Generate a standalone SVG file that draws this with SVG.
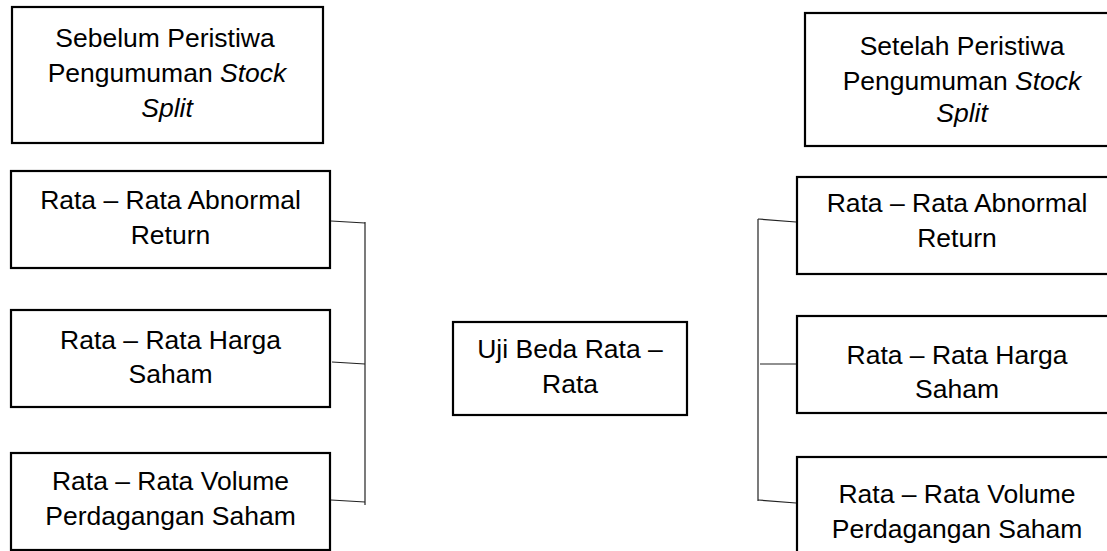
<svg xmlns="http://www.w3.org/2000/svg" width="1107" height="551" viewBox="0 0 1107 551">
<style>
.box{fill:#fff;stroke:#000;stroke-width:2.2}
.t{font-family:"Liberation Sans",Arial,sans-serif;font-size:26.5px;fill:#000;text-anchor:middle}
.i{font-style:italic}
.c{fill:none;stroke:#222;stroke-width:1.2}
</style>
<rect width="1107" height="551" fill="#fff"/>
<g id="connectors">
<line class="c" x1="365" y1="222" x2="365" y2="505"/>
<line class="c" x1="331" y1="221" x2="365" y2="223"/>
<line class="c" x1="332" y1="362" x2="365" y2="364"/>
<line class="c" x1="331" y1="500" x2="365" y2="502"/>
<line class="c" x1="758" y1="219" x2="758" y2="501"/>
<line class="c" x1="758" y1="219" x2="796" y2="222"/>
<line class="c" x1="760" y1="364" x2="796" y2="364"/>
<line class="c" x1="758" y1="500" x2="796" y2="503"/>
</g>
<g id="before">
<rect class="box" x="12" y="7" width="311" height="136"/>
<text class="t" x="165" y="47">Sebelum Peristiwa</text>
<text class="t" x="167" y="82">Pengumuman <tspan class="i">Stock</tspan></text>
<text class="t i" x="167" y="117">Split</text>
</g>
<g id="before-abnormal">
<rect class="box" x="11" y="171" width="319" height="97"/>
<text class="t" x="170.5" y="209">Rata – Rata Abnormal</text>
<text class="t" x="170.5" y="244">Return</text>
</g>
<g id="before-harga">
<rect class="box" x="11" y="310" width="319" height="97"/>
<text class="t" x="170.5" y="349">Rata – Rata Harga</text>
<text class="t" x="170.5" y="383">Saham</text>
</g>
<g id="before-volume">
<rect class="box" x="11" y="453" width="319" height="97"/>
<text class="t" x="170.5" y="490">Rata – Rata Volume</text>
<text class="t" x="170.5" y="525">Perdagangan Saham</text>
</g>
<g id="uji">
<rect class="box" x="453" y="322" width="234" height="93"/>
<text class="t" x="570" y="358">Uji Beda Rata –</text>
<text class="t" x="570" y="393">Rata</text>
</g>
<g id="after">
<rect class="box" x="805" y="13" width="314" height="133"/>
<text class="t" x="962" y="55">Setelah Peristiwa</text>
<text class="t" x="962" y="90">Pengumuman <tspan class="i">Stock</tspan></text>
<text class="t i" x="962" y="122">Split</text>
</g>
<g id="after-abnormal">
<rect class="box" x="797" y="177" width="326" height="97"/>
<text class="t" x="957" y="212">Rata – Rata Abnormal</text>
<text class="t" x="957" y="247">Return</text>
</g>
<g id="after-harga">
<rect class="box" x="797" y="316" width="326" height="97"/>
<text class="t" x="957" y="364">Rata – Rata Harga</text>
<text class="t" x="957" y="398">Saham</text>
</g>
<g id="after-volume">
<rect class="box" x="797" y="457" width="326" height="103"/>
<text class="t" x="957" y="503">Rata – Rata Volume</text>
<text class="t" x="957" y="538">Perdagangan Saham</text>
</g>
</svg>
